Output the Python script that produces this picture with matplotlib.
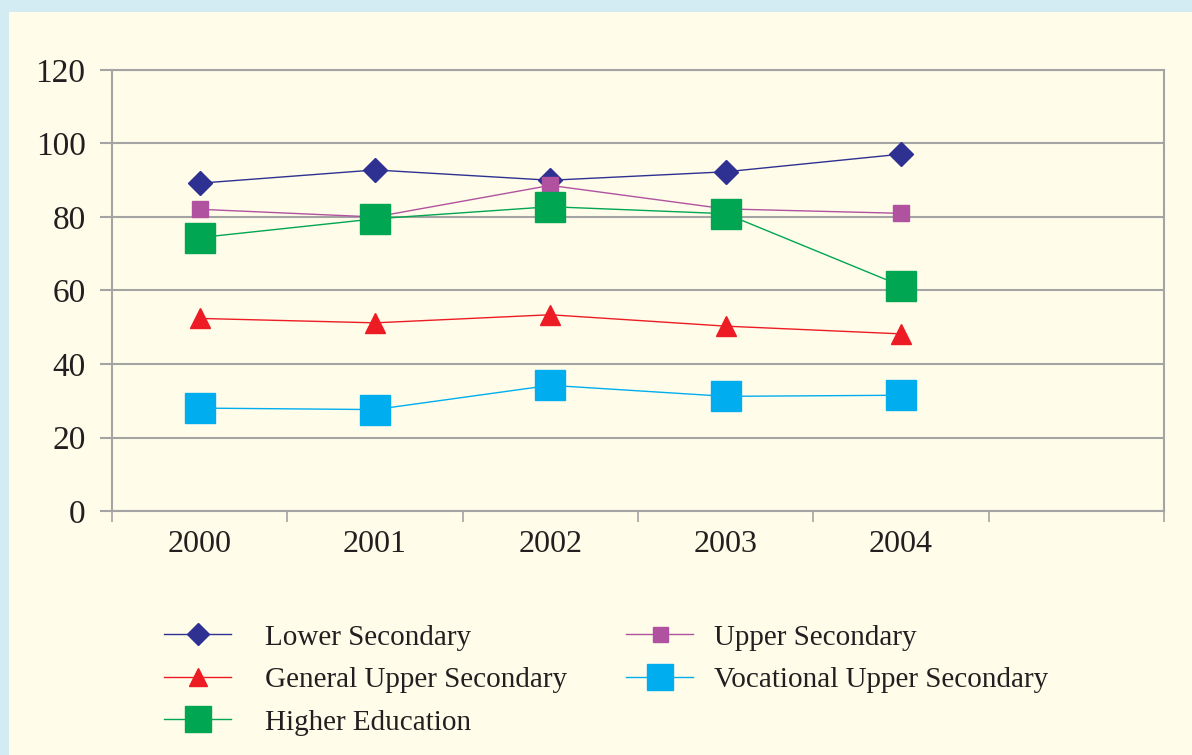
import matplotlib.pyplot as plt
import matplotlib.patches as patches
import numpy as np

years = ['2000', '2001', '2002', '2003', '2004']
lower_secondary = [89.2, 92.8, 90.0, 92.3, 97.1]
upper_secondary = [82.1, 80.0, 88.6, 82.2, 81.0]
general_upper = [52.4, 51.2, 53.4, 50.3, 48.2]
vocational_upper = [28.0, 27.6, 34.2, 31.2, 31.5]
higher_education = [74.4, 79.5, 82.8, 80.9, 61.3]
y_ticks = [0, 20, 40, 60, 80, 100, 120]

plt.rcParams['font.family'] = ['Liberation Serif', 'DejaVu Serif']
txt = '#231F20'
grid_col = '#A4A4A4'

fig = plt.figure(figsize=(11.92, 7.55), dpi=100, facecolor='#D3ECF4')
# cream panel inside the light blue frame
fig.patches.append(patches.Rectangle((9 / 1192, 0), 1, 1 - 12 / 755,
                                     transform=fig.transFigure,
                                     facecolor='#FFFCE9', edgecolor='none',
                                     zorder=-5))

ax = fig.add_axes([112 / 1192, 1 - 511 / 755, 1052 / 1192, 441 / 755])
ax.set_facecolor('#FFFCE9')

x = np.arange(len(years))

#plotting
l1, = ax.plot(x, lower_secondary, color='#2E3192', lw=1.0, marker='D',
              ms=12, label='Lower Secondary', zorder=3)
l2, = ax.plot(x, upper_secondary, color='#B052A0', lw=1.0, marker='s',
              ms=12, label='Upper Secondary', zorder=3)
l3, = ax.plot(x, general_upper, color='#ED1C24', lw=1.0, marker='^',
              ms=15, label='General Upper Secondary', zorder=3)
l4, = ax.plot(x, vocational_upper, color='#00AEEF', lw=1.0, marker='s',
              ms=21, label='Vocational Upper Secondary', zorder=3)
l5, = ax.plot(x, higher_education, color='#00A651', lw=1.0, marker='s',
              ms=21, label='Higher Education', zorder=3)

#axis range
ax.set_xlim(-0.5, 5.5)
ax.set_ylim(0, 120)

#grid
ax.set_yticks(y_ticks)
ax.yaxis.grid(True, color=grid_col, lw=1.5)
ax.set_axisbelow(True)

for axis in ['top', 'bottom', 'left', 'right']:
    ax.spines[axis].set_color(grid_col)
    ax.spines[axis].set_linewidth(1.5)

#ticks: marks at slot edges, labels at slot centres
ax.set_xticks(np.arange(-0.5, 6.0, 1.0))
ax.set_xticklabels([])
ax.set_xticks(x, minor=True)
ax.set_xticklabels(years, minor=True)
ax.tick_params(axis='x', which='major', direction='out', length=8,
               width=1.2, color=grid_col)
ax.tick_params(axis='x', which='minor', length=0, pad=14, labelsize=23,
               labelcolor=txt)
ax.tick_params(axis='y', direction='out', length=9, width=1.5,
               color=grid_col, pad=10, labelsize=24, labelcolor=txt)

#legend, two columns placed separately
leg_kw = dict(loc='upper left', frameon=False, fontsize=21, handlelength=2.3,
              labelspacing=0.55, labelcolor=txt, markerscale=0.9)
col1 = [l1, l3, l5]
col2 = [l2, l4]
leg1 = fig.legend(handles=col1, labels=[h.get_label() for h in col1],
                  bbox_to_anchor=(138 / 1192, 1 - 598 / 755),
                  handletextpad=1.15, **leg_kw)
fig.legend(handles=col2, labels=[h.get_label() for h in col2],
           bbox_to_anchor=(600 / 1192, 1 - 598 / 755),
           handletextpad=0.7, **leg_kw)

plt.savefig('out.png', dpi=100, facecolor=fig.get_facecolor())
